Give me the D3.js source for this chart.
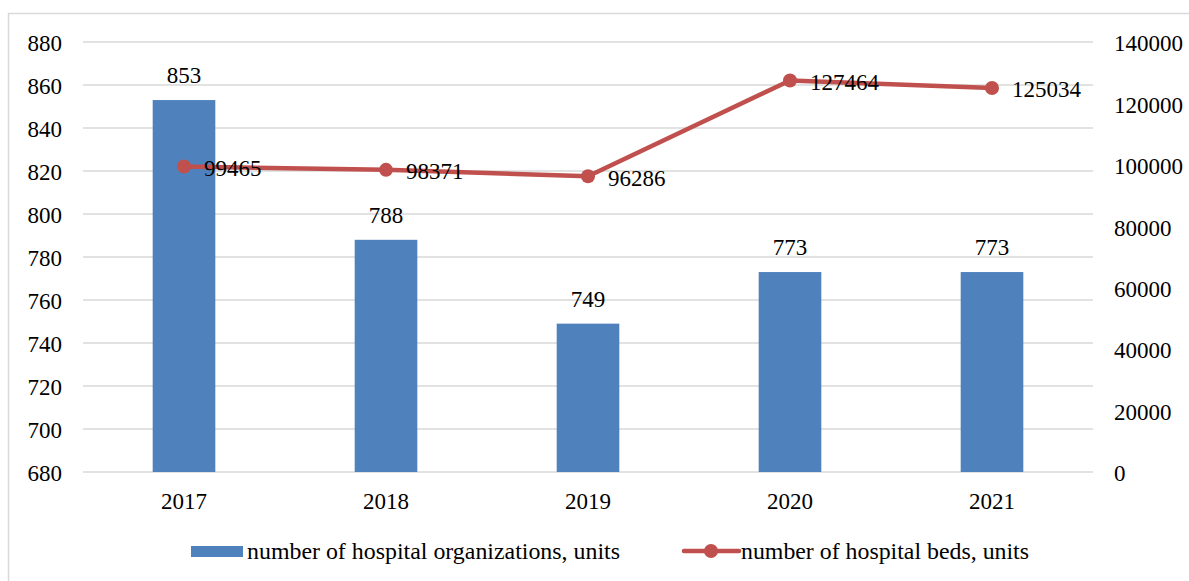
<!DOCTYPE html>
<html>
<head>
<meta charset="utf-8">
<script src="https://cdn.jsdelivr.net/npm/d3@7"></script>
<style>
  body { margin: 0; background: #fff; }
</style>
</head>
<body>
<svg id="chart" width="1189" height="581" font-family="Liberation Serif"></svg>
<script>
// data
const years = ["2017", "2018", "2019", "2020", "2021"];
const organizations = [853, 788, 749, 773, 773];
const beds = [99465, 98371, 96286, 127464, 125034];
const leftTicks = [680, 700, 720, 740, 760, 780, 800, 820, 840, 860, 880];
const rightTicks = [0, 20000, 40000, 60000, 80000, 100000, 120000, 140000];
const seriesNames = ["number of hospital organizations, units", "number of hospital beds, units"];

const BAR_COLOR = "#4f81bd";
const LINE_COLOR = "#c0504d";
const GRID_COLOR = "#d9d9d9";
const FONT = "Liberation Serif";
const FONT_SIZE = 23;

const svg = d3.select("#chart");

// every text gets the serif face
function styleText(sel, size = FONT_SIZE) {
  return sel
    .attr("font-family", FONT)
    .attr("font-size", size)
    .attr("fill", "#000");
}

// outer frame of the chart area
svg.append("rect")
  .attr("x", 8.5).attr("y", 13.5)
  .attr("width", 1300).attr("height", 700)
  .attr("fill", "none")
  .attr("stroke", GRID_COLOR)
  .attr("stroke-width", 1.5);

const PLOT = { left: 83, right: 1093, top: 42, bottom: 472 };

const x = d3.scaleBand()
  .domain(years)
  .range([PLOT.left, PLOT.right]);

const yLeft = d3.scaleLinear()
  .domain([680, 880])
  .range([PLOT.bottom, PLOT.top]);

const yRight = d3.scaleLinear()
  .domain([0, 140000])
  .range([PLOT.bottom, PLOT.top]);

// gridlines
svg.append("g")
  .selectAll("line")
  .data(leftTicks)
  .join("line")
  .attr("x1", PLOT.left).attr("x2", PLOT.right)
  .attr("y1", d => yLeft(d)).attr("y2", d => yLeft(d))
  .attr("stroke", GRID_COLOR)
  .attr("stroke-width", 1.5);

// left axis
const leftAxis = svg.append("g")
  .attr("transform", `translate(${PLOT.left - 21},0)`)
  .call(d3.axisLeft(yLeft).tickValues(leftTicks).tickSize(0).tickPadding(0));
leftAxis.attr("font-family", FONT).attr("font-size", FONT_SIZE);
leftAxis.select(".domain").remove();
styleText(leftAxis.selectAll("text")).attr("dy", "0.38em");

// right axis
const rightAxis = svg.append("g")
  .attr("transform", `translate(${PLOT.right + 21},0)`)
  .call(d3.axisRight(yRight).tickValues(rightTicks).tickSize(0).tickPadding(0).tickFormat(d3.format("d")));
rightAxis.attr("font-family", FONT).attr("font-size", FONT_SIZE);
rightAxis.select(".domain").remove();
styleText(rightAxis.selectAll("text")).attr("dy", "0.38em");

// bottom axis
const bottomAxis = svg.append("g")
  .attr("transform", `translate(0,${PLOT.bottom + 21})`)
  .call(d3.axisBottom(x).tickSize(0).tickPadding(0));
bottomAxis.attr("font-family", FONT).attr("font-size", FONT_SIZE);
bottomAxis.select(".domain").remove();
styleText(bottomAxis.selectAll("text"));

// bars
const barWidth = x.bandwidth() * 0.31;
svg.append("g")
  .selectAll("rect")
  .data(years)
  .join("rect")
  .attr("x", d => x(d) + (x.bandwidth() - barWidth) / 2)
  .attr("width", barWidth)
  .attr("y", (d, i) => yLeft(organizations[i]))
  .attr("height", (d, i) => PLOT.bottom - yLeft(organizations[i]))
  .attr("fill", BAR_COLOR);

// bar labels
styleText(svg.append("g")
  .selectAll("text")
  .data(years)
  .join("text")
  .attr("x", d => x(d) + x.bandwidth() / 2)
  .attr("y", (d, i) => yLeft(organizations[i]) - 17)
  .attr("text-anchor", "middle")
  .text((d, i) => organizations[i]));

// beds line
const cx = d => x(d) + x.bandwidth() / 2;
const line = d3.line()
  .x(d => cx(d.year))
  .y(d => yRight(d.value));
const bedData = years.map((year, i) => ({ year, value: beds[i] }));

svg.append("path")
  .datum(bedData)
  .attr("d", line)
  .attr("fill", "none")
  .attr("stroke", LINE_COLOR)
  .attr("stroke-width", 4.5)
  .attr("stroke-linejoin", "round");

svg.append("g")
  .selectAll("circle")
  .data(bedData)
  .join("circle")
  .attr("cx", d => cx(d.year))
  .attr("cy", d => yRight(d.value))
  .attr("r", 7)
  .attr("fill", LINE_COLOR);

styleText(svg.append("g")
  .selectAll("text")
  .data(bedData)
  .join("text")
  .attr("x", d => cx(d.year) + 20)
  .attr("y", d => yRight(d.value) + 9.5)
  .text(d => d.value));

// legend (the source squeezes these labels a little)
const legend = svg.append("g");
legend.append("rect")
  .attr("x", 191).attr("y", 546)
  .attr("width", 52).attr("height", 11)
  .attr("fill", BAR_COLOR);
styleText(legend.append("text")
  .attr("x", 247).attr("y", 559)
  .attr("textLength", 373)
  .attr("lengthAdjust", "spacingAndGlyphs")
  .text(seriesNames[0]), 22.5);

legend.append("line")
  .attr("x1", 684).attr("x2", 739)
  .attr("y1", 551).attr("y2", 551)
  .attr("stroke", LINE_COLOR)
  .attr("stroke-width", 4.5)
  .attr("stroke-linecap", "round");
legend.append("circle")
  .attr("cx", 711).attr("cy", 551)
  .attr("r", 7)
  .attr("fill", LINE_COLOR);
styleText(legend.append("text")
  .attr("x", 741).attr("y", 559)
  .attr("textLength", 288)
  .attr("lengthAdjust", "spacingAndGlyphs")
  .text(seriesNames[1]), 22.5);
</script>
</body>
</html>
